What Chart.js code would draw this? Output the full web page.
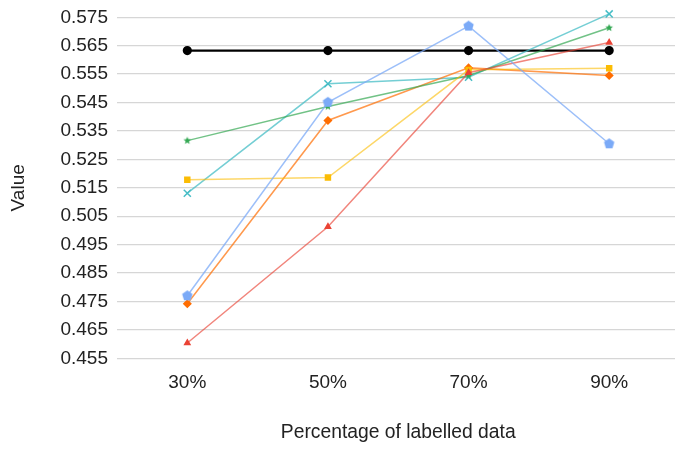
<!DOCTYPE html>
<html>
<head>
<meta charset="utf-8">
<script src="https://cdn.jsdelivr.net/npm/chart.js@4"></script>
<style>
  html, body { margin: 0; padding: 0; background: #fff; overflow: hidden; }
  #wrap { width: 675px; height: 450px; overflow: hidden; position: relative; }
  #chart { position: absolute; left: 0; top: 0; width: 686px; height: 450px; }
</style>
</head>
<body>
<div id="wrap"><canvas id="chart" width="686" height="450"></canvas></div>
<script>
// 가로축 카테고리와 시리즈 값
const percentages = ["30%", "50%", "70%", "90%"];
const baseline   = [0.5633, 0.5633, 0.5633, 0.5633];
const blueVals   = [0.4770, 0.5451, 0.5719, 0.5305];
const redVals    = [0.4604, 0.5013, 0.5555, 0.5661];
const yellowVals = [0.5178, 0.5186, 0.5565, 0.5571];
const greenVals  = [0.5316, 0.5436, 0.5545, 0.5713];
const orangeVals = [0.4742, 0.5387, 0.5572, 0.5545];
const tealVals   = [0.5131, 0.5516, 0.5539, 0.5762];

// 세로축 눈금
const yMin = 0.455;
const yMax = 0.575;
const yStep = 0.01;

// 오각형 / 별 마커 (Chart.js 기본 모양에 없어서 직접 그림)
function polyMarker(color, r, pts, inner) {
  const c = document.createElement("canvas");
  const s = Math.ceil(r * 2 + 2);
  c.width = s; c.height = s;
  const g = c.getContext("2d");
  g.fillStyle = color;
  g.beginPath();
  const n = inner ? pts * 2 : pts;
  for (let i = 0; i < n; i++) {
    const a = -Math.PI / 2 + i * 2 * Math.PI / n;
    const rr = inner && i % 2 ? r * inner : r;
    const x = s / 2 + rr * Math.cos(a), y = s / 2 + rr * Math.sin(a);
    i ? g.lineTo(x, y) : g.moveTo(x, y);
  }
  g.closePath();
  g.fill();
  return c;
}
const pentagon = polyMarker("#7baaf7", 5.5, 5);
const star = polyMarker("#34a853", 4, 5, 0.45);

function series(label, data, color, lineColor, style, radius) {
  return {
    label, data,
    borderColor: lineColor,
    backgroundColor: color,
    pointBackgroundColor: color,
    pointBorderColor: color,
    pointStyle: style,
    pointRadius: radius,
    borderWidth: 1.5,
    tension: 0,
    clip: false,
  };
}

const tickFont = { family: "Liberation Sans", size: 19 };

new Chart(document.getElementById("chart"), {
  type: "line",
  data: {
    labels: percentages,
    datasets: [
      series("A", blueVals, "#7baaf7", "rgba(123,170,247,0.75)", pentagon, 5),
      series("B", redVals, "#ea4335", "rgba(234,67,53,0.65)", "triangle", 3),
      series("C", yellowVals, "#fbbc04", "rgba(251,188,4,0.6)", "rect", 3.5),
      series("D", greenVals, "#34a853", "rgba(52,168,83,0.7)", star, 4),
      series("E", orangeVals, "#ff6d01", "rgba(255,109,1,0.7)", "rectRot", 3.5),
      series("F", tealVals, "#46bdc6", "rgba(70,189,198,0.75)", "crossRot", 5),
      {
        label: "Baseline",
        data: baseline,
        borderColor: "#000",
        backgroundColor: "#000",
        pointBackgroundColor: "#000",
        pointRadius: 3.5,
        borderWidth: 2.2,
        tension: 0,
        clip: false,
      },
    ],
  },
  options: {
    responsive: false,
    animation: false,
    layout: { padding: { top: 17.3, right: 1, left: 0, bottom: 0 } },
    scales: {
      x: {
        offset: true,
        grid: { display: false },
        border: { display: false },
        ticks: { color: "#222", font: tickFont, padding: 5 },
        title: {
          display: true,
          text: "Percentage of labelled data",
          color: "#222",
          font: { family: "Liberation Sans", size: 19.3 },
          padding: { top: 20, bottom: 6 },
        },
        afterFit: (s) => {
          s.height = 91.7;
          s.paddingLeft = 0;
          s.paddingRight = 0;
        },
      },
      y: {
        min: yMin,
        max: yMax,
        ticks: {
          stepSize: yStep,
          color: "#222",
          font: tickFont,
          padding: 9,
          callback: (v) => v.toFixed(3),
        },
        grid: { color: "#d6d6d6", lineWidth: 1.3, drawTicks: false },
        border: { display: false },
        title: {
          display: true,
          text: "Value",
          color: "#222",
          font: tickFont,
          padding: { top: 7, bottom: 0 },
        },
        afterFit: (s) => {
          s.width = 117;
          s.paddingTop = 0;
          s.paddingBottom = 0;
        },
      },
    },
    plugins: {
      legend: { display: false },
      tooltip: { enabled: false },
    },
  },
});
</script>
</body>
</html>
